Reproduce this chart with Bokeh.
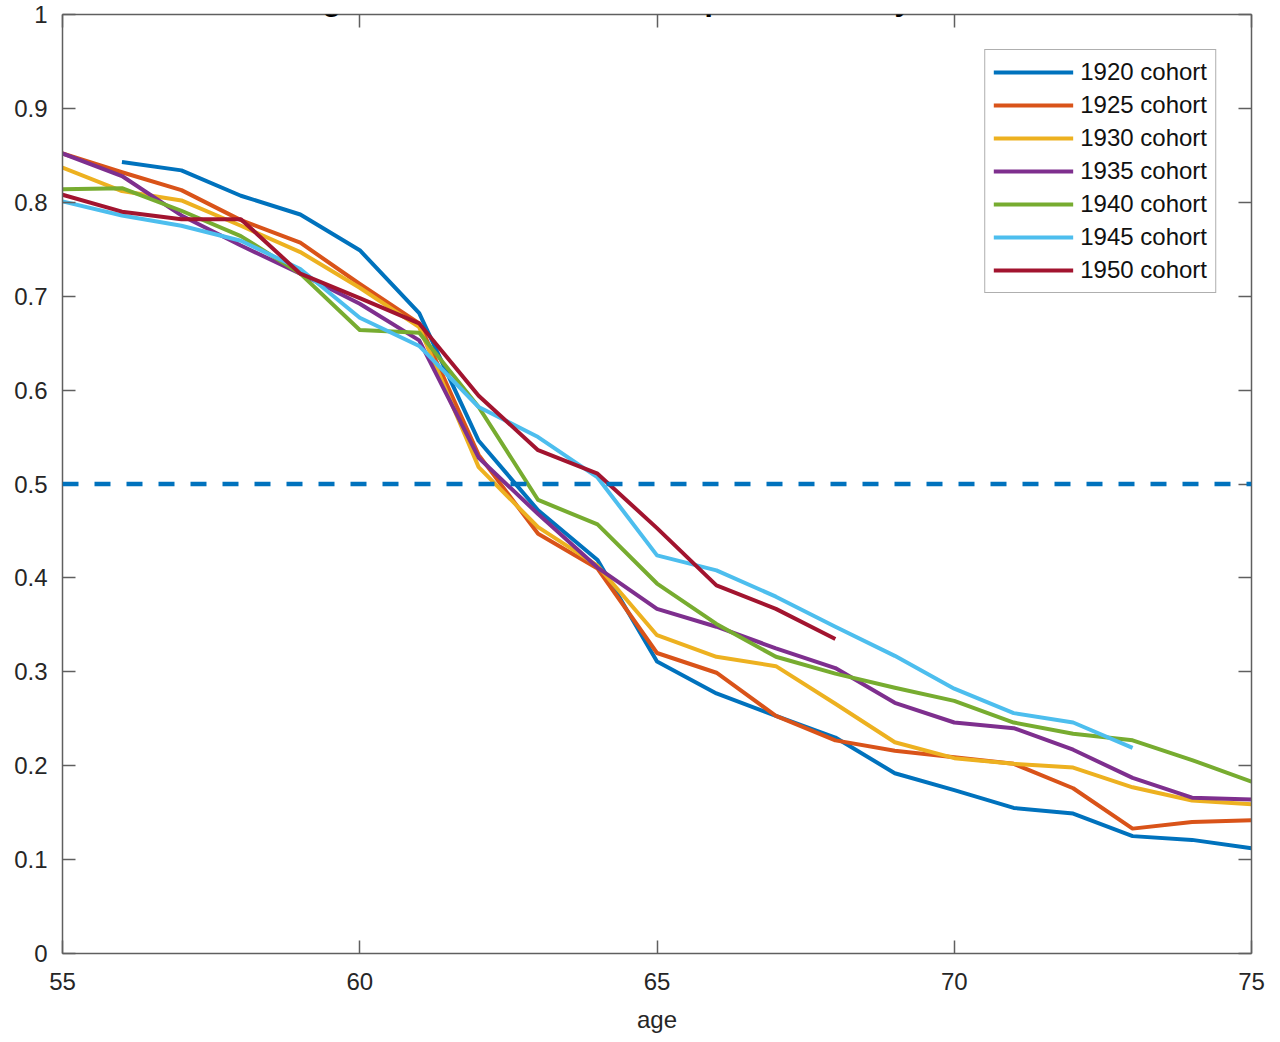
import numpy as np
from bokeh.plotting import figure
from bokeh.models import (LinearAxis, FixedTicker, Span, Label, Legend,
                          LegendItem, Range1d)
from bokeh.embed import file_html
from bokeh.resources import INLINE

nan = np.nan

title_text = "Figure 1: Labor Force Participation Rate by Cohort"
x_label = "age"

ages = list(range(55, 76))
x_ticks = [55, 60, 65, 70, 75]
y_ticks = [0, 0.1, 0.2, 0.3, 0.4, 0.5, 0.6, 0.7, 0.8, 0.9, 1]
threshold = 0.5

cohort_1920 = [nan, 0.843, 0.834, 0.807, 0.787, 0.749, 0.682, 0.546, 0.472, 0.419, 0.311,
               0.277, 0.253, 0.230, 0.192, 0.174, 0.155, 0.149, 0.125, 0.121, 0.112]
cohort_1925 = [0.852, 0.832, 0.813, 0.781, 0.757, 0.713, 0.671, 0.531, 0.447, 0.410, 0.320,
               0.299, 0.253, 0.227, 0.216, 0.209, 0.202, 0.176, 0.133, 0.140, 0.142]
cohort_1930 = [0.837, 0.812, 0.802, 0.775, 0.747, 0.709, 0.667, 0.518, 0.454, 0.413, 0.339,
               0.316, 0.306, 0.266, 0.225, 0.208, 0.202, 0.198, 0.177, 0.163, 0.159]
cohort_1935 = [0.852, 0.828, 0.786, 0.754, 0.724, 0.692, 0.653, 0.528, 0.468, 0.411, 0.367,
               0.348, 0.325, 0.304, 0.267, 0.246, 0.240, 0.217, 0.187, 0.166, 0.164]
cohort_1940 = [0.814, 0.815, 0.791, 0.764, 0.724, 0.664, 0.661, 0.582, 0.483, 0.457, 0.394,
               0.351, 0.316, 0.298, 0.283, 0.269, 0.246, 0.234, 0.227, 0.206, 0.183]
cohort_1945 = [0.801, 0.786, 0.775, 0.759, 0.729, 0.677, 0.647, 0.582, 0.550, 0.507, 0.424,
               0.408, 0.380, 0.348, 0.317, 0.282, 0.256, 0.246, 0.219, nan, nan]
cohort_1950 = [0.808, 0.790, 0.782, 0.782, 0.724, 0.698, 0.671, 0.594, 0.536, 0.511, 0.453,
               0.392, 0.367, 0.335, nan, nan, nan, nan, nan, nan, nan]

series_labels = ["1920 cohort", "1925 cohort", "1930 cohort", "1935 cohort",
                 "1940 cohort", "1945 cohort", "1950 cohort"]
series_values = [cohort_1920, cohort_1925, cohort_1930, cohort_1935,
                 cohort_1940, cohort_1945, cohort_1950]
colors = ["#0072BD", "#D95319", "#EDB120", "#7E2F8E", "#77AC30", "#4DBEEE", "#A2142F"]

FONT = "Liberation Sans"
AX_COLOR = "#5f5f5f"

p = figure(width=1272, height=1040, output_backend="svg", toolbar_location=None,
           x_range=Range1d(55, 75), y_range=Range1d(0, 1),
           min_border_left=62, min_border_right=21, min_border_top=14, min_border_bottom=87,
           x_axis_location=None, y_axis_location=None)
p.xgrid.visible = False
p.ygrid.visible = False
p.outline_line_color = None
p.background_fill_color = "white"
p.border_fill_color = "white"


def style_axis(ax, ticks, show_labels):
    ax.ticker = FixedTicker(ticks=ticks)
    ax.axis_line_color = AX_COLOR
    ax.axis_line_width = 1.5
    ax.major_tick_line_color = AX_COLOR
    ax.major_tick_line_width = 1.5
    ax.major_tick_in = 13
    ax.major_tick_out = 0
    ax.minor_tick_line_color = None
    ax.major_label_text_font = FONT
    ax.major_label_text_color = "#262626"
    if show_labels:
        ax.major_label_text_font_size = "24px"
    else:
        ax.major_label_overrides = {t: "" for t in ticks}
        ax.major_label_text_font_size = "0px"
        ax.major_label_standoff = 0


xb = LinearAxis()
style_axis(xb, x_ticks, True)
xb.major_label_standoff = 19
xb.axis_label = x_label
xb.axis_label_text_font = FONT
xb.axis_label_text_font_size = "24px"
xb.axis_label_text_font_style = "normal"
xb.axis_label_text_color = "#262626"
xb.axis_label_standoff = 13
p.add_layout(xb, "below")

yl = LinearAxis()
style_axis(yl, y_ticks, True)
yl.major_label_standoff = 15
p.add_layout(yl, "left")

xt = LinearAxis()
style_axis(xt, x_ticks, False)
p.add_layout(xt, "above")

yr = LinearAxis()
style_axis(yr, y_ticks, False)
p.add_layout(yr, "right")

renderers = []
for vals, c in zip(series_values, colors):
    r = p.line(ages, vals, line_color=c, line_width=4, line_join="round")
    renderers.append(r)

p.add_layout(Span(location=threshold, dimension="width", line_color="#0072BD",
                  line_width=4.5, line_dash="16 16"))

legend = Legend(items=[LegendItem(label=l, renderers=[r])
                       for l, r in zip(series_labels, renderers)],
                location="top_right", margin=35, padding=8, spacing=5,
                glyph_width=80, glyph_height=28, label_height=28, label_standoff=7,
                label_text_font=FONT, label_text_font_size="24px",
                label_text_color="#111111",
                border_line_color=AX_COLOR, border_line_width=1.5,
                background_fill_color="white", background_fill_alpha=1)
p.add_layout(legend)

title = Label(x=65, y=1, y_offset=14, text=title_text, text_align="center",
              text_baseline="alphabetic", text_font=FONT, text_font_size="30px",
              text_font_style="bold", text_color="#000000")
p.add_layout(title)

open("out.html", "w").write(file_html(p, INLINE))
